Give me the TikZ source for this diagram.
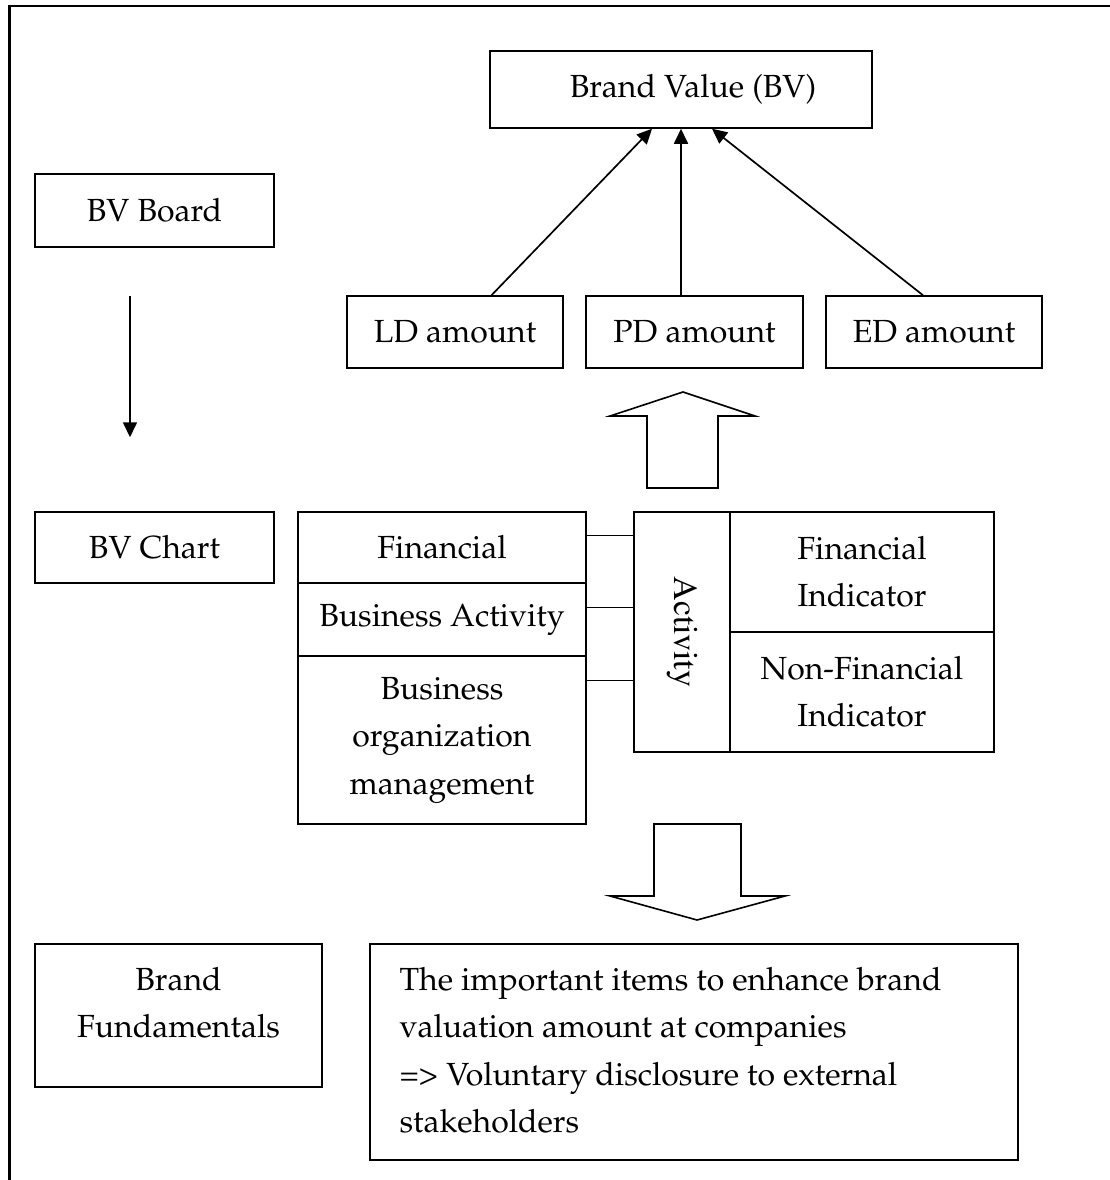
\documentclass[tikz,border=0pt]{standalone}
\usepackage[T1]{fontenc}
\renewcommand{\rmdefault}{ppl}
\usetikzlibrary{arrows.meta}

\newcommand{\labelfont}{\fontsize{32}{47.5}\selectfont}

\tikzset{
  box/.style={draw, line width=1.5pt, inner sep=0pt, align=center, font=\labelfont},
  link/.style={line width=1.5pt},
  thinarrow/.style={line width=1.7pt, -{Triangle[length=15pt,width=14pt]}},
  blockarrow/.style={line width=1.6pt, line join=miter}
}

\begin{document}
\begin{tikzpicture}[x=1pt,y=-1pt]
  \useasboundingbox (0,0) rectangle (1110,1180);

  % outer frame: top and left edges only
  \draw[line width=2.3pt] (9.5,1180) -- (9.5,6) -- (1110,6);

  % top: brand value and its three components
  \node[box, minimum width=382pt, minimum height=77pt] (bv) at (681,89.5) {\hspace*{24pt}Brand Value (BV)};
  \node[box, minimum width=216pt, minimum height=72pt] (ld) at (455,332) {LD amount};
  \node[box, minimum width=217pt, minimum height=72pt] (pd) at (694.5,332) {PD amount};
  \node[box, minimum width=216pt, minimum height=72pt] (ed) at (934,332) {ED amount};

  \draw[thinarrow] ([xshift=36.5pt]ld.north) -- ([xshift=-29pt]bv.south);
  \draw[thinarrow] ([xshift=-13.5pt]pd.north) -- (bv.south);
  \draw[thinarrow] ([xshift=-11pt]ed.north) -- ([xshift=31pt]bv.south);

  % left column
  \node[box, minimum width=239pt, minimum height=73pt] (board) at (154.5,210.5) {BV Board};
  \node[box, minimum width=239pt, minimum height=71pt] (chart) at (154.5,547.5) {BV Chart};
  \node[box, minimum width=287pt, minimum height=143pt] (fund) at (178.5,1015.5) {};
  \node[font=\labelfont, align=center, anchor=base] (fundtext) at (178.5,1037.5) {Brand\\Fundamentals};

  \draw[thinarrow] ([shift={(-24.5pt,-48pt)}]board.south) -- ([shift={(-24.5pt,74pt)}]chart.north);

  % upward block arrow
  \draw[blockarrow] (647,488) -- (647,416) -- (610,416) -- (683,392) -- (755,416)
    -- (718,416) -- (718,488) -- cycle;

  % middle block: stacked categories
  \node[box, minimum width=288pt, minimum height=71pt] (fin) at (442,547.5) {Financial};
  \node[box, minimum width=288pt, minimum height=73pt] (bact) at (442,619.5) {Business Activity};
  \node[box, minimum width=288pt, minimum height=168pt] (borg) at (442,740) {Business\\organization\\management};

  \node[box, minimum width=96pt, minimum height=240pt] (act) at (682,632)
    {\rotatebox{-90}{\fontfamily{ptm}\fontsize{34}{40}\selectfont Activity}};
  \node[box, minimum width=264pt, minimum height=120pt] (finind) at (862,572) {Financial\\Indicator};
  \node[box, minimum width=264pt, minimum height=120pt] (nfind) at (862,692) {Non-Financial\\Indicator};

  \draw[link] ([yshift=-24pt]fin.north east) -- ([yshift=-24pt]act.north west);
  \draw[link] ([yshift=-96pt]fin.north east) -- ([yshift=-96pt]act.north west);
  \draw[link] ([yshift=-169pt]fin.north east) -- ([yshift=-169pt]act.north west);

  % downward block arrow
  \draw[blockarrow] (654,824) -- (741,824) -- (741,896) -- (785,896) -- (697,920)
    -- (610,896) -- (654,896) -- cycle;

  % bottom note
  \node[box, minimum width=648pt, minimum height=216pt] (items) at (694,1052) {};
  \node[font=\labelfont, align=left, anchor=base west] (itemstext) at (396,1132.5)
    {The important items to enhance brand\\valuation amount at companies\\=> Voluntary disclosure to external\\stakeholders};
\end{tikzpicture}
\end{document}
